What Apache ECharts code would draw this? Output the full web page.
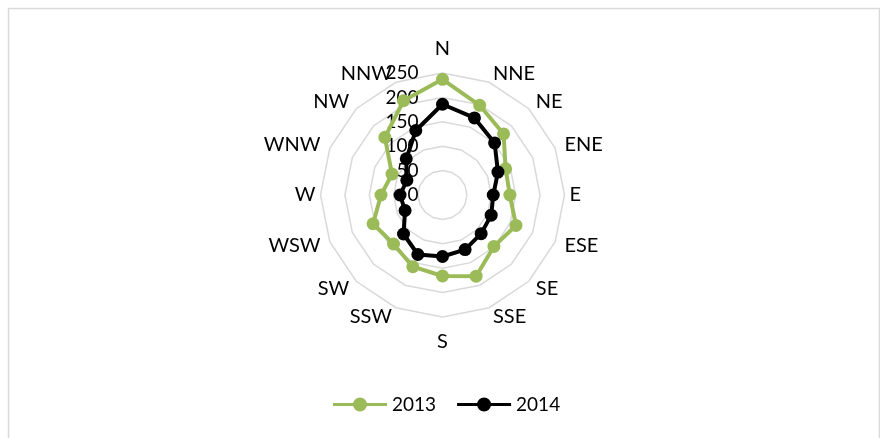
<!DOCTYPE html>
<html>
	<head>
		<meta charset="UTF-8">
		<title>Wind rose 2013 / 2014</title>
		<script src="https://cdn.jsdelivr.net/npm/echarts@6/dist/echarts.min.js"></script>
		<style>
			html, body { margin: 0; padding: 0; background: #fff; }
			#chart { width: 880px; height: 438px; }
		</style>
	</head>
	<body>
		<div id="chart"></div>
		<script>
		// directions in compass order (clockwise from N)
		var directions = ['N', 'NNE', 'NE', 'ENE', 'E', 'ESE', 'SE', 'SSE', 'S', 'SSW', 'SW', 'WSW', 'W', 'WNW', 'NW', 'NNW'];
		var values2013 = [237, 199, 177, 140, 138, 163, 149, 180, 166, 159, 142, 154, 126, 112, 167, 209];
		var values2014 = [186, 171, 151, 123, 104, 108, 112, 121, 126, 132, 113, 83, 87, 79, 105, 143];
		var seriesNames = ['2013', '2014'];
		var seriesColors = ['#9bbb59', '#000000'];
		var axisMax = 250;

		// echarts lays radar axes counter-clockwise, so walk the compass backwards after N
		var order = [0];
		for (var i = directions.length - 1; i > 0; i--) order.push(i);

		function reorder(arr) {
			return order.map(function (i) { return arr[i]; });
		}

		// excel keeps the top/bottom names further out than the side ones
		var nameGaps = { N: 14, S: 15, E: 5, W: 5 };

		var indicators = order.map(function (i, k) {
			var ind = { name: directions[i], min: 0, max: axisMax };
			if (nameGaps[directions[i]] != null) ind.nameGap = nameGaps[directions[i]];
			if (k === 0) {
				// only the N spoke carries the value labels
				ind.axisLabel = {
					show: true,
					color: '#000',
					fontSize: 19,
					fontFamily: 'Lato',
					margin: 24
				};
			}
			return ind;
		});

		var legendIcon = 'path://M0,5.5H54V8.5H0Z M20,7A7,7 0 1,1 34,7A7,7 0 1,1 20,7Z';

		var myChart = echarts.init(document.getElementById('chart'));
		var option = {
			animation: false,
			backgroundColor: '#fff',
			graphic: [{
				type: 'rect',
				silent: true,
				shape: { x: 8.5, y: 8.5, width: 871, height: 440 },
				style: { fill: 'none', stroke: '#d9d9d9', lineWidth: 1.5 }
			}],
			legend: {
				left: 328,
				top: 390,
				itemWidth: 54,
				itemHeight: 14,
				itemGap: 21,
				icon: legendIcon,
				textStyle: { color: '#000', fontSize: 19, fontFamily: 'Lato' },
				data: seriesNames
			},
			radar: {
				center: [442.5, 195],
				radius: 122,
				startAngle: 90,
				shape: 'polygon',
				splitNumber: 5,
				nameGap: 10,
				axisName: { color: '#000', fontSize: 20, fontFamily: 'Lato' },
				splitLine: { lineStyle: { color: '#d9d9d9', width: 1.5 } },
				splitArea: { show: false },
				axisLine: { show: false },
				axisTick: { show: false },
				axisLabel: { show: false },
				indicator: indicators
			},
			series: [{
				type: 'radar',
				name: seriesNames[0],
				symbol: 'circle',
				symbolSize: 13,
				itemStyle: { color: seriesColors[0] },
				lineStyle: { color: seriesColors[0], width: 4 },
				data: [{ name: seriesNames[0], value: reorder(values2013) }]
			}, {
				type: 'radar',
				name: seriesNames[1],
				symbol: 'circle',
				symbolSize: 13,
				itemStyle: { color: seriesColors[1] },
				lineStyle: { color: seriesColors[1], width: 4 },
				data: [{ name: seriesNames[1], value: reorder(values2014) }]
			}]
		};
		myChart.setOption(option);
		</script>
	</body>
</html>
